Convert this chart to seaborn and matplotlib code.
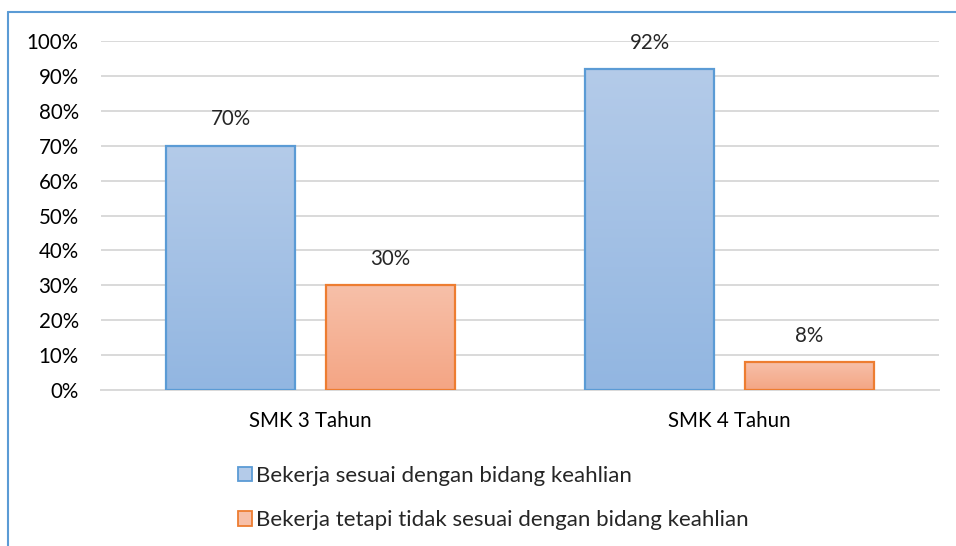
import numpy as np
import pandas as pd
import matplotlib
matplotlib.use("Agg")
import matplotlib.pyplot as plt
import seaborn as sns
from matplotlib.lines import Line2D
from matplotlib.patches import Patch
from matplotlib.colors import LinearSegmentedColormap

# data
categories = ["SMK 3 Tahun", "SMK 4 Tahun"]
series = ["Bekerja sesuai dengan bidang keahlian",
          "Bekerja tetapi tidak sesuai dengan bidang keahlian"]
sesuai = [70, 92]
tidak_sesuai = [30, 8]

# Excel-like gradient colours (top, bottom) and edges
grad = {series[0]: ("#b4cbe9", "#92b6e1"), series[1]: ("#f7c0a9", "#f4a584")}
edges = {series[0]: "#5b9bd5", series[1]: "#ed7d31"}

df = pd.DataFrame({
    "kategori": categories * 2,
    "seri": [series[0]] * 2 + [series[1]] * 2,
    "nilai": sesuai + tidak_sesuai,
})

sns.set_style("white")
plt.rcParams['font.family'] = ['Lato', 'DejaVu Sans']
fs = 14.8

fig = plt.figure(figsize=(9.56, 5.46), dpi=100)
ax = fig.add_axes([101 / 956, 1 - 390 / 546, 838 / 956, 349 / 546])

sns.barplot(data=df, x="kategori", y="nilai", hue="seri", order=categories,
            hue_order=series, width=0.764, gap=0.194, ax=ax, legend=False,
            palette=[grad[s][1] for s in series])

ax.set_yticks(range(0, 101, 10))
ax.set_yticklabels([f"{v}%" for v in range(0, 101, 10)])
ax.yaxis.grid(True, color="#d9d9d9", linewidth=1.4)
ax.set_axisbelow(True)
for sp in ["top", "right", "left"]:
    ax.spines[sp].set_visible(False)
ax.spines["bottom"].set_color("#d9d9d9")
ax.spines["bottom"].set_linewidth(1.4)
ax.tick_params(axis="both", length=0, labelsize=fs, colors="black")
ax.tick_params(axis="x", pad=15)
ax.tick_params(axis="y", pad=16)
ax.set_xlabel("")
ax.set_ylabel("")

# gradient fill + data labels
for cont, s in zip(ax.containers, series):
    cmap = LinearSegmentedColormap.from_list(s, [grad[s][1], grad[s][0]])
    for bar in cont:
        x, w, h = bar.get_x(), bar.get_width(), bar.get_height()
        g = np.linspace(0, 1, 256).reshape(-1, 1)
        im = ax.imshow(g, cmap=cmap, aspect="auto", origin="lower",
                       extent=[x, x + w, 0, h], zorder=2)
        im.set_clip_path(bar)
        bar.set_facecolor("none")
        bar.set_edgecolor(edges[s])
        bar.set_linewidth(1.6)
        bar.set_zorder(3)
        ax.annotate(f"{h:.0f}%", (x + w / 2, h), xytext=(0, 19),
                    textcoords="offset points", ha="center", va="center",
                    fontsize=fs)
ax.set_xlim(-0.5, 1.5)
ax.set_ylim(0, 100)

handles = [Patch(facecolor=grad[s][0], edgecolor=edges[s], linewidth=1.3) for s in series]
fig.legend(handles, series, loc="upper left", bbox_to_anchor=(229 / 956, 1 - 457 / 546),
           frameon=False, fontsize=16, handlelength=0.62, handleheight=0.62,
           handletextpad=0.2, labelspacing=1.1, borderaxespad=0)

# chart frame (only top and left visible)
fig.add_artist(Line2D([8 / 956, 1], [1 - 12 / 546, 1 - 12 / 546], color="#5b9bd5",
                      linewidth=1.5, transform=fig.transFigure))
fig.add_artist(Line2D([8 / 956, 8 / 956], [0, 1 - 12 / 546], color="#5b9bd5",
                      linewidth=1.5, transform=fig.transFigure))

fig.savefig("out.png", dpi=100)
